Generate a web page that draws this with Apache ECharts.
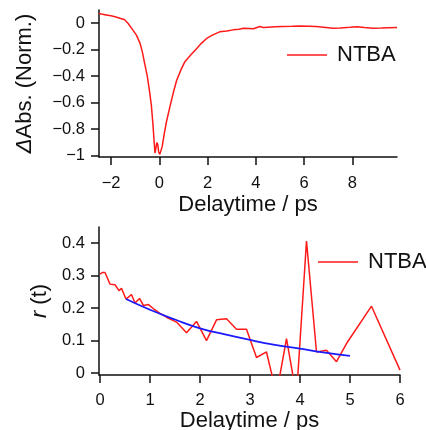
<!DOCTYPE html>
<html>
<head>
    <meta charset="UTF-8">
    <title>NTBA</title>
    <script src="https://cdn.jsdelivr.net/npm/echarts@6.0.0/dist/echarts.min.js"></script>
    <style>
        html, body { margin: 0; padding: 0; background: #fff; }
        #main { width: 426px; height: 430px; }
    </style>
</head>
<body>
<div id="main"></div>

<script type="text/javascript">
    // 上段: 過渡吸収 (規格化)
    var absTime = [-2.5, -2.4, -2.2, -2.0, -1.8, -1.6, -1.45, -1.3, -1.1, -0.95, -0.8, -0.7, -0.6, -0.5, -0.4, -0.33,
        -0.27, -0.22, -0.18, -0.14, -0.1, -0.06, -0.03, 0.02, 0.06, 0.12, 0.2, 0.3, 0.44, 0.6, 0.72, 0.9, 1.06, 1.3,
        1.55, 1.75, 1.96, 2.2, 2.5, 2.8, 3.06, 3.3, 3.5, 3.7, 3.9, 4.05, 4.17, 4.3, 4.5, 4.8, 5.1, 5.5, 5.85, 6.2, 6.5,
        6.8, 7.2, 7.5, 7.9, 8.2, 8.5, 8.86, 9.2, 9.5, 9.85];
    var absValue = [0.075, 0.07, 0.063, 0.056, 0.047, 0.036, 0.028, 0.0, -0.05, -0.09, -0.15, -0.22, -0.31, -0.40, -0.52,
        -0.62, -0.75, -0.88, -0.98, -0.97, -0.90, -0.92, -0.97, -0.99, -1.0, -0.93, -0.84, -0.74, -0.63, -0.51, -0.43,
        -0.35, -0.29, -0.24, -0.19, -0.15, -0.115, -0.09, -0.065, -0.058, -0.05, -0.045, -0.038, -0.04, -0.042, -0.032,
        -0.025, -0.032, -0.03, -0.027, -0.025, -0.023, -0.02, -0.022, -0.025, -0.03, -0.037, -0.035, -0.03, -0.026,
        -0.032, -0.038, -0.036, -0.034, -0.033];

    // 下段: 異方性 r(t)
    var rTime = [0, 0.05, 0.1, 0.2, 0.3, 0.38, 0.43, 0.52, 0.63, 0.7, 0.79, 0.87, 0.97, 1.07, 1.2, 1.33, 1.53, 1.73,
        1.93, 2.13, 2.33, 2.53, 2.73, 2.93, 3.13, 3.33, 3.53, 3.73, 3.93, 4.13, 4.33, 4.53, 4.73, 4.93, 5.43, 6.0];
    var rValue = [0.305, 0.31, 0.31, 0.274, 0.272, 0.254, 0.261, 0.228, 0.242, 0.216, 0.23, 0.208, 0.211, 0.198, 0.184,
        0.172, 0.157, 0.124, 0.159, 0.10, 0.164, 0.167, 0.135, 0.135, 0.048, 0.065, -0.065, 0.106, -0.071, 0.407, 0.065,
        0.07, 0.035, 0.091, 0.206, 0.009];

    // フィット曲線
    var fitTime = [0.52, 1.0, 1.5, 2.0, 2.5, 3.0, 3.5, 4.0, 4.5, 5.0];
    var fitValue = [0.228, 0.195, 0.165, 0.138, 0.119, 0.102, 0.087, 0.075, 0.063, 0.053];

    var absTicksX = [-2, 0, 2, 4, 6, 8];
    var absTicksY = [-1, -0.8, -0.6, -0.4, -0.2, 0];
    var rTicksX = [0, 1, 2, 3, 4, 5, 6];
    var rTicksY = [0, 0.1, 0.2, 0.3, 0.4];

    function pairs(xs, ys) {
        var out = [];
        for (var i = 0; i < xs.length; i++) out.push([xs[i], ys[i]]);
        return out;
    }

    function fmt(v) {
        var s = String(Math.round(v * 10) / 10);
        return s.replace('-', '\u2212');
    }

    var FONT = 'Liberation Sans, Arial, sans-serif';
    var INK = '#111';

    function valueAxis(gridIndex, min, max, ticks, extra) {
        var ax = {
            type: 'value',
            gridIndex: gridIndex,
            min: min,
            max: max,
            splitLine: {show: false},
            axisLine: {show: true, onZero: false, lineStyle: {color: INK, width: 1.5}},
            axisTick: {show: true, inside: false, length: 8, lineStyle: {color: INK, width: 1.5}, customValues: ticks},
            axisLabel: {color: INK, fontSize: 16.5, fontFamily: FONT, margin: 14, formatter: fmt, customValues: ticks},
            nameLocation: 'middle',
            nameTextStyle: {color: INK, fontSize: 22, fontFamily: FONT}
        };
        for (var k in extra) {
            if (k === 'labelMargin') ax.axisLabel.margin = extra[k];
            else ax[k] = extra[k];
        }
        return ax;
    }

    var myChart = echarts.init(document.getElementById('main'));

    var legendText = {color: INK, fontSize: 22, fontFamily: FONT, padding: [0, 0, 0, 5]};

    var option = {
        animation: false,
        backgroundColor: '#fff',
        grid: [
            {left: 99, top: 10, width: 298, height: 147, containLabel: false, outerBoundsMode: 'none'},
            {left: 99, top: 227, width: 301, height: 148, containLabel: false, outerBoundsMode: 'none'}
        ],
        xAxis: [
            valueAxis(0, -2.5, 9.85, absTicksX, {name: 'Delaytime / ps', nameGap: 37, labelMargin: 18}),
            valueAxis(1, -0.02, 6, rTicksX, {name: 'Delaytime / ps', nameGap: 35, labelMargin: 17})
        ],
        yAxis: [
            valueAxis(0, -1.01, 0.1, absTicksY, {
                name: '{i|\u0394}Abs. (Norm.)',
                nameGap: 63,
                nameTextStyle: {
                    color: INK, fontSize: 22, fontFamily: FONT,
                    rich: {i: {fontStyle: 'italic', fontSize: 22, fontFamily: FONT, color: INK}}
                }
            }),
            valueAxis(1, -0.006, 0.45, rTicksY, {
                name: '{i|r} (t)',
                nameGap: 44,
                nameTextStyle: {
                    color: INK, fontSize: 22, fontFamily: FONT,
                    rich: {i: {fontStyle: 'italic', fontSize: 22, fontFamily: FONT, color: INK}}
                }
            })
        ],
        legend: [
            {
                left: 287, top: 44, padding: 0, icon: 'rect', itemWidth: 40, itemHeight: 1.5,
                data: ['NTBA'], textStyle: legendText
            },
            {
                left: 318, top: 251, padding: 0, icon: 'rect', itemWidth: 40, itemHeight: 1.5,
                data: ['NTBA'], textStyle: legendText
            }
        ],
        series: [
            {
                name: 'NTBA', type: 'line', xAxisIndex: 0, yAxisIndex: 0,
                data: pairs(absTime, absValue),
                symbol: 'none', lineStyle: {color: '#ff1a1a', width: 1.5}, itemStyle: {color: '#ff1a1a'}
            },
            {
                name: 'NTBA', type: 'line', xAxisIndex: 1, yAxisIndex: 1,
                data: pairs(rTime, rValue), clip: true,
                symbol: 'none', lineStyle: {color: '#ff1a1a', width: 1.5}, itemStyle: {color: '#ff1a1a'}
            },
            {
                name: 'fit', type: 'line', xAxisIndex: 1, yAxisIndex: 1,
                data: pairs(fitTime, fitValue), smooth: true,
                symbol: 'none', lineStyle: {color: '#1a1aff', width: 1.8}, itemStyle: {color: '#1a1aff'}
            }
        ]
    };

    myChart.setOption(option);
</script>
</body>
</html>
